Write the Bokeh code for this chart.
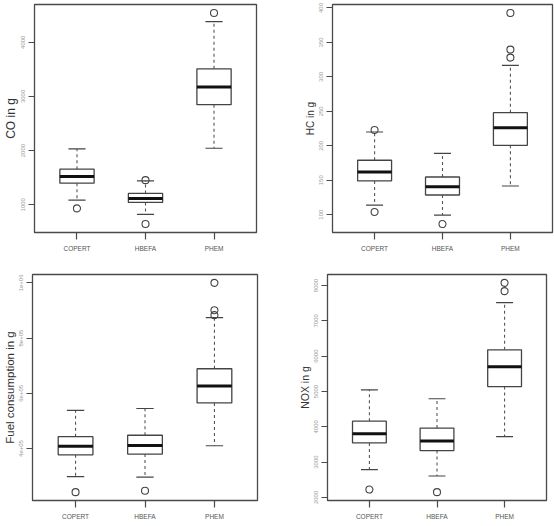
from bokeh.plotting import figure
from bokeh.layouts import column, row
from bokeh.models import ColumnDataSource, FixedTicker, Range1d
from bokeh.embed import file_html
from bokeh.resources import INLINE

# Model names on the x axis
models = ["COPERT", "HBEFA", "PHEM"]

# Five-number summaries per model: lower whisker, Q1, median, Q3, upper whisker
co_stats = [[1086, 1399, 1521, 1656, 2031],
            [822, 1043, 1117, 1209, 1442],
            [2043, 2847, 3172, 3509, 4380]]
co_outliers = [[933], [644, 1454], [4540]]

hc_stats = [[114, 149, 162, 179, 220],
            [99.5, 128.6, 140.7, 154.7, 189],
            [141.6, 200.7, 226.3, 248, 316.8]]
hc_outliers = [[104, 223], [86.4], [328, 339.6, 392.8]]

fuel_stats = [[298e3, 377e3, 408e3, 443e3, 538e3],
              [296e3, 380e3, 411e3, 448e3, 545e3],
              [410e3, 565e3, 626e3, 689e3, 874e3]]
fuel_outliers = [[242e3], [247e3], [883e3, 901e3, 1000e3]]

nox_stats = [[2785, 3542, 3804, 4159, 5047],
             [2607, 3327, 3598, 3963, 4794],
             [3720, 5140, 5701, 6178, 7514]]
nox_outliers = [[2224], [2150], [7841, 8075]]

# Y tick positions and their labels
co_ticks = [1000, 2000, 3000, 4000]
hc_ticks = [100, 150, 200, 250, 300, 350, 400]
fuel_ticks = [400000, 600000, 800000, 1000000]
fuel_tick_labels = ["4e+05", "6e+05", "8e+05", "1e+06"]
nox_ticks = [2000, 3000, 4000, 5000, 6000, 7000, 8000]

FONT = "Liberation Sans"
FRAME = "#4a4a4a"


def boxplot(stats, outliers, ylabel, yticks, ytick_labels, label_size,
            width, height, borders):
    left, right, top, bottom = borders
    xs = list(range(1, len(models) + 1))
    lw = [s[0] for s in stats]
    q1 = [s[1] for s in stats]
    med = [s[2] for s in stats]
    q3 = [s[3] for s in stats]
    uw = [s[4] for s in stats]

    ox, oy = [], []
    for i, vals in enumerate(outliers):
        for v in vals:
            ox.append(xs[i])
            oy.append(v)

    # y range as R pads it: 4% beyond the data extent
    lo = min(min(lw), min(oy))
    hi = max(max(uw), max(oy))
    pad = 0.04 * (hi - lo)

    p = figure(width=width, height=height, output_backend="svg",
               toolbar_location=None, tools="",
               x_range=Range1d(0.38, 3.62), y_range=Range1d(lo - pad, hi + pad),
               min_border_left=left, min_border_right=right,
               min_border_top=top, min_border_bottom=bottom)
    p.background_fill_color = "white"
    p.border_fill_color = "white"
    p.outline_line_color = FRAME
    p.outline_line_width = 1.3
    p.xgrid.visible = False
    p.ygrid.visible = False

    half = 0.25
    cap = 0.125
    src = ColumnDataSource(dict(x=xs, l=[x - half for x in xs], r=[x + half for x in xs],
                                cl=[x - cap for x in xs], cr=[x + cap for x in xs],
                                lw=lw, q1=q1, med=med, q3=q3, uw=uw))

    # dashed whiskers
    p.segment("x", "q3", "x", "uw", source=src, line_color="#555555",
              line_width=1.1, line_dash="3 3")
    p.segment("x", "q1", "x", "lw", source=src, line_color="#555555",
              line_width=1.1, line_dash="3 3")
    # whisker caps
    p.segment("cl", "uw", "cr", "uw", source=src, line_color="#444444", line_width=1.2)
    p.segment("cl", "lw", "cr", "lw", source=src, line_color="#444444", line_width=1.2)
    # boxes and medians
    p.quad(left="l", right="r", bottom="q1", top="q3", source=src,
           fill_color="white", line_color="#444444", line_width=1.3)
    p.segment("l", "med", "r", "med", source=src, line_color="#111111", line_width=3)
    # outliers
    p.scatter(ox, oy, marker="circle", size=7, fill_color=None,
              line_color="#444444", line_width=1.1)

    xa = p.xaxis[0]
    xa.ticker = FixedTicker(ticks=xs)
    xa.major_label_overrides = {x: m for x, m in zip(xs, models)}
    xa.minor_tick_line_color = None
    xa.major_tick_in = 0
    xa.major_tick_out = 7
    xa.major_tick_line_color = FRAME
    xa.major_tick_line_width = 1.2
    xa.axis_line_color = FRAME
    xa.major_label_standoff = 5
    xa.major_label_text_font = FONT
    xa.major_label_text_font_size = "6.5px"
    xa.major_label_text_color = "#555555"

    ya = p.yaxis[0]
    ya.ticker = FixedTicker(ticks=yticks)
    if ytick_labels is not None:
        ya.major_label_overrides = {t: s for t, s in zip(yticks, ytick_labels)}
    ya.minor_tick_line_color = None
    ya.major_tick_in = 0
    ya.major_tick_out = 6
    ya.major_tick_line_color = FRAME
    ya.major_tick_line_width = 1.2
    ya.axis_line_color = FRAME
    ya.major_label_orientation = "vertical"
    ya.major_label_standoff = 3
    ya.major_label_text_font = FONT
    ya.major_label_text_font_size = "6px"
    ya.major_label_text_color = "#9a9a9a"
    ya.axis_label = ylabel
    ya.axis_label_standoff = 1
    ya.axis_label_text_font = FONT
    ya.axis_label_text_font_style = "normal"
    ya.axis_label_text_font_size = label_size
    ya.axis_label_text_color = "#333333"
    return p


p1 = boxplot(co_stats, co_outliers, "CO in g", co_ticks, None, "12px",
             277, 263, (33, 21, 4, 31))
p2 = boxplot(hc_stats, hc_outliers, "HC in g", hc_ticks, None, "10px",
             277, 263, (55, 2, 4, 31))
p3 = boxplot(fuel_stats, fuel_outliers, "Fuel consumption in g", fuel_ticks,
             fuel_tick_labels, "11.5px", 277, 263, (32, 20, 10, 24))
p4 = boxplot(nox_stats, nox_outliers, "NOX in g", nox_ticks, None, "10.5px",
             277, 263, (50, 8, 11, 26))

layout = column(row(p1, p2), row(p3, p4))
open("out.html", "w").write(file_html(layout, INLINE))
